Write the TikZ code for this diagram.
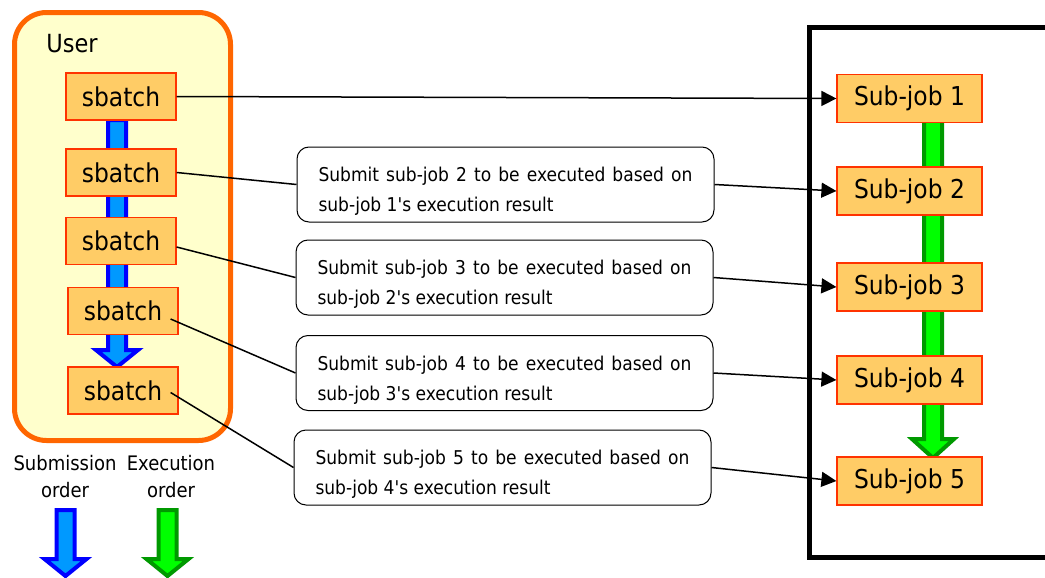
\documentclass[tikz,border=0pt]{standalone}
\usepackage{fontspec}
\setmainfont{DejaVu Sans Condensed}
\usetikzlibrary{arrows.meta}

\definecolor{userfill}{HTML}{FFFFCC}
\definecolor{userline}{HTML}{FF6600}
\definecolor{jobfill}{HTML}{FFCC66}
\definecolor{jobline}{HTML}{FF3300}
\definecolor{subfill}{HTML}{0099FF}
\definecolor{subline}{HTML}{0000FF}
\definecolor{exefill}{HTML}{00FF00}
\definecolor{exeline}{HTML}{009900}

\begin{document}
\begin{tikzpicture}[x=0.5pt, y=-0.5pt,
    job/.style={draw=jobline, fill=jobfill, line width=0.6pt, inner sep=0pt,
        minimum width=55pt, minimum height=23.5pt, font=\fontsize{13}{15}\selectfont},
    subjob/.style={job, minimum width=72.5pt, minimum height=24pt},
    note/.style={draw, fill=white, rounded corners=6pt, line width=0.5pt, inner sep=0pt,
        minimum width=208.5pt, minimum height=37.5pt, align=left,
        font=\fontsize{9.5}{15}\selectfont},
    link/.style={line width=0.75pt},
    push/.style={link, -{Triangle[length=7.5pt,width=7.5pt]}},
    submitarrow/.style={draw=subline, fill=subfill, line width=2pt},
    execarrow/.style={draw=exeline, fill=exefill, line width=2pt}]
\useasboundingbox (0,0) rectangle (1045,578);

% user side
\node[draw=userline, fill=userfill, line width=2.5pt, rounded corners=16pt,
      minimum width=108pt, minimum height=214pt] (user) at (122.5,226.5) {};
\node[anchor=base west, inner sep=0pt, font=\fontsize{12.5}{15}\selectfont] (usertitle) at (46,52) {User};
\draw[submitarrow] (108,120) -- (108,350) -- (96,350) -- (117,367)
      -- (138,350) -- (126,350) -- (126,120) -- cycle;
\node[job] (sb1) at (121,96.5) {sbatch};
\node[job] (sb2) at (121,172.5) {sbatch};
\node[job] (sb3) at (121,241) {sbatch};
\node[job] (sb4) at (123,311) {sbatch};
\node[job] (sb5) at (123,390.5) {sbatch};

% legend
\node[align=center, font=\fontsize{10}{13.5}\selectfont] (sublabel) at (65,477) {Submission\\order};
\node[align=center, font=\fontsize{10}{13.5}\selectfont] (exelabel) at (171,477) {Execution\\order};
\foreach \cx/\sty in {65.5/submitarrow, 167.5/execarrow}
  \draw[\sty] (\cx-9,510) -- (\cx-9,559) -- (\cx-21,559) -- (\cx,576)
      -- (\cx+21,559) -- (\cx+9,559) -- (\cx+9,510) -- cycle;

% cluster side
\draw[line width=2.5pt] (1080,27) -| (809.5,557.5) -- (1080,557.5);
\draw[execarrow] (924,120) -- (924,439) -- (912,439) -- (933,458)
      -- (954,439) -- (942,439) -- (942,120) -- cycle;
\node[subjob] (job1) at (909.5,98.5) {Sub-job 1};
\node[subjob] (job2) at (909.5,191) {Sub-job 2};
\node[subjob] (job3) at (909.5,287) {Sub-job 3};
\node[subjob] (job4) at (909.5,380) {Sub-job 4};
\node[subjob] (job5) at (909.5,481) {Sub-job 5};

% notes in between
\foreach \n/\xc/\yc in {2/505.5/184.5, 3/504.5/277.5, 4/504.5/373, 5/502.5/467.5}{
  \pgfmathtruncatemacro\prev{\n-1}
  \node[note] (note\n) at (\xc,\yc)
    {\rule{0pt}{14pt}\makebox[187pt][s]{Submit sub-job \n\ to be executed based on}\\
     sub-job \prev\textquotesingle s execution result};
  \draw[push] (note\n.east) -- (job\n.west);
}

\draw[push] (sb1.east) -- (job1.west);
\draw[link] (sb2.east) -- (note2.west);
\draw[link] ([shift={(0,6)}]sb3.east) -- (note3.west);
\draw[link] ([shift={(-8,8)}]sb4.east) -- (note4.west);
\draw[link] ([shift={(-8,2)}]sb5.east) -- (note5.west);
\end{tikzpicture}
\end{document}
